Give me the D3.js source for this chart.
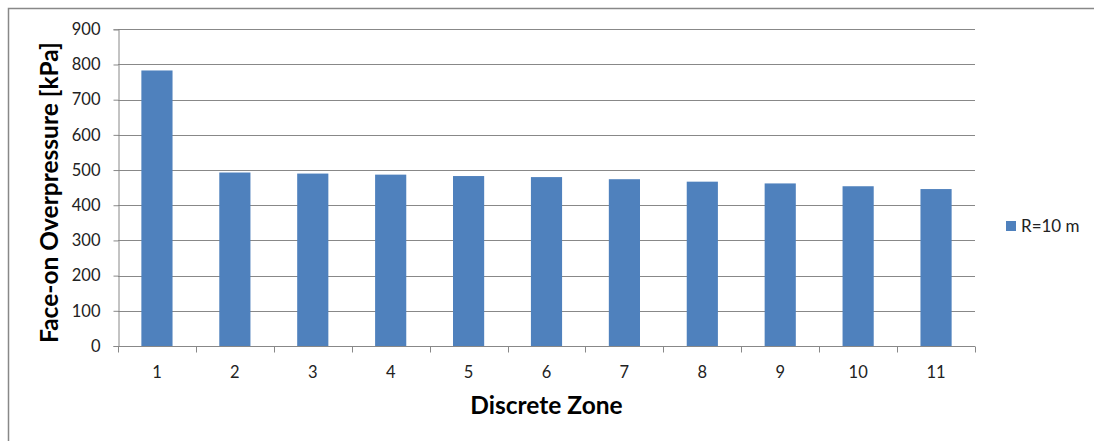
<!DOCTYPE html>
<html>
<head>
<meta charset="utf-8">
<script src="https://cdn.jsdelivr.net/npm/d3@7"></script>
<style>
  html, body { margin: 0; padding: 0; background: #fff; }
  svg { display: block; }
  text { font-family: Lato, "Open Sans", sans-serif; }
</style>
</head>
<body>
<svg id="chart" width="1094" height="441"></svg>
<script>
// Face-on overpressure per discrete zone, R = 10 m
const zones = ["1", "2", "3", "4", "5", "6", "7", "8", "9", "10", "11"];
const overpressure = [783, 493, 490, 487, 483, 480, 474, 467, 462, 454, 446];
const yTicks = [0, 100, 200, 300, 400, 500, 600, 700, 800, 900];
const seriesName = "R=10 m";
const xTitle = "Discrete Zone";
const yTitle = "Face-on Overpressure [kPa]";

const W = 1094, H = 441;
const plot = { left: 118, right: 975, top: 29.3, bottom: 346 };
const barColor = "#4F81BD";
const gridColor = "#888888";

const svg = d3.select("#chart");

// outer chart frame (left and top edges visible)
svg.append("path")
  .attr("d", `M8.5,${H} V8.5 H${W}`)
  .attr("fill", "none")
  .attr("stroke", gridColor)
  .attr("stroke-width", 1.5);

const x = d3.scaleBand()
  .domain(zones)
  .range([plot.left, plot.right])
  .paddingInner(0.6)
  .paddingOuter(0.3);

const y = d3.scaleLinear()
  .domain([0, 900])
  .range([plot.bottom, plot.top]);

// horizontal gridlines
svg.append("g")
  .selectAll("line")
  .data(yTicks.filter(d => d > 0))
  .join("line")
  .attr("x1", plot.left)
  .attr("x2", plot.right)
  .attr("y1", d => Math.round(y(d)) + 0.5)
  .attr("y2", d => Math.round(y(d)) + 0.5)
  .attr("stroke", gridColor)
  .attr("stroke-width", 1);

// bars
svg.append("g")
  .selectAll("rect")
  .data(zones.map((z, i) => ({ z, v: overpressure[i] })))
  .join("rect")
  .attr("x", d => x(d.z))
  .attr("width", x.bandwidth())
  .attr("y", d => y(d.v))
  .attr("height", d => y(0) - y(d.v))
  .attr("fill", barColor);

// y axis
const yAxis = svg.append("g")
  .attr("transform", `translate(${plot.left + 0.5},0)`)
  .call(d3.axisLeft(y).tickValues(yTicks).tickSize(5).tickPadding(13).tickFormat(d3.format("d")));
yAxis.selectAll("line, path").attr("stroke", gridColor);
yAxis.selectAll("text")
  .attr("font-size", 16.5)
  .attr("fill", "#222")
  .style("font-family", "Lato, sans-serif");

// x axis: ticks sit on the band boundaries
const xAxisG = svg.append("g")
  .attr("transform", `translate(0,${Math.round(plot.bottom) + 0.5})`);
xAxisG.append("line")
  .attr("x1", plot.left).attr("x2", plot.right)
  .attr("stroke", gridColor);
const boundaries = d3.range(zones.length + 1).map(i => plot.left + i * (plot.right - plot.left) / zones.length);
xAxisG.selectAll("line.tick")
  .data(boundaries)
  .join("line")
  .attr("class", "tick")
  .attr("x1", d => Math.round(d) + 0.5)
  .attr("x2", d => Math.round(d) + 0.5)
  .attr("y1", 0).attr("y2", 6)
  .attr("stroke", gridColor);
xAxisG.selectAll("text")
  .data(zones)
  .join("text")
  .attr("x", d => x(d) + x.bandwidth() / 2)
  .attr("y", 31)
  .attr("text-anchor", "middle")
  .attr("font-size", 16.5)
  .attr("fill", "#222")
  .text(d => d);

// axis titles
svg.append("text")
  .attr("x", (plot.left + plot.right) / 2)
  .attr("y", 414)
  .attr("text-anchor", "middle")
  .attr("font-size", 24.5)
  .attr("font-weight", "bold")
  .attr("fill", "#000")
  .text(xTitle);

svg.append("text")
  .attr("transform", `translate(58,${(plot.top + plot.bottom) / 2 + 5}) rotate(-90)`)
  .attr("text-anchor", "middle")
  .attr("font-size", 24.5)
  .attr("font-weight", "bold")
  .attr("fill", "#000")
  .text(yTitle);

// legend
const legend = svg.append("g").attr("transform", "translate(1006,221)");
legend.append("rect")
  .attr("width", 10).attr("height", 10)
  .attr("fill", barColor);
legend.append("text")
  .attr("x", 15)
  .attr("y", 11)
  .attr("font-size", 17)
  .attr("fill", "#222")
  .text(seriesName);
</script>
</body>
</html>
